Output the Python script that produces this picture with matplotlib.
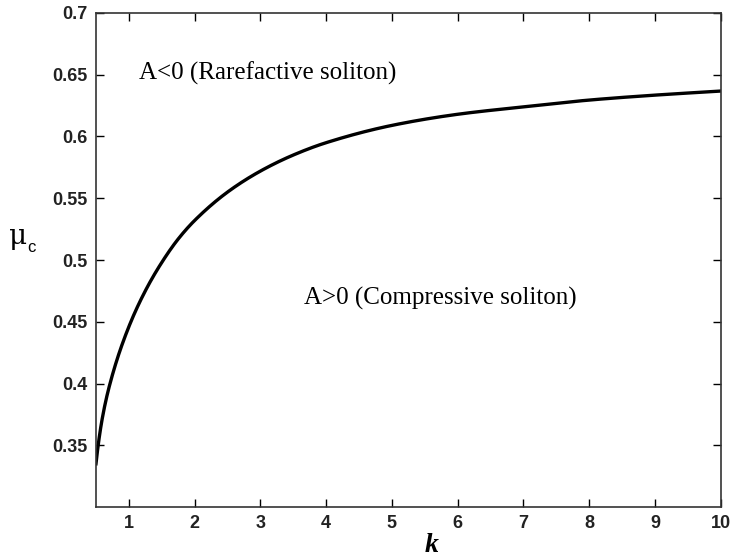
import matplotlib
matplotlib.use("Agg")
import matplotlib.pyplot as plt
import numpy as np

k_vals = [0.5, 0.6, 0.75, 1.0, 1.25, 1.5, 1.75, 2.0, 2.5, 3.0, 3.5, 4.0,
          5.0, 6.0, 7.0, 8.0, 9.0, 10.0]
mu_vals = [0.335, 0.373, 0.407, 0.446, 0.475, 0.498, 0.517, 0.532, 0.555, 0.572,
           0.585, 0.595, 0.609, 0.618, 0.624, 0.6295, 0.6335, 0.6368]

x_ticks = [1, 2, 3, 4, 5, 6, 7, 8, 9, 10]
y_ticks = [0.35, 0.4, 0.45, 0.5, 0.55, 0.6, 0.65, 0.7]
y_ticklabels = ["0.35", "0.4", "0.45", "0.5", "0.55", "0.6", "0.65", "0.7"]

fig = plt.figure(figsize=(7.31, 5.6), dpi=100)
ax = fig.add_axes([0.1313, 0.0946, 0.8547, 0.8822])

# smooth monotone Hermite curve through the read points (drawing only)
xs = np.array(k_vals); ys = np.array(mu_vals)
xx = np.linspace(xs[0], xs[-1], 800)
h = np.diff(xs); d = np.diff(ys) / h
m = np.zeros_like(ys)
m[0] = d[0] * 1.3; m[-1] = d[-1]
for i in range(1, len(ys) - 1):
    w1 = 2 * h[i] + h[i-1]; w2 = h[i] + 2 * h[i-1]
    m[i] = (w1 + w2) / (w1 / d[i-1] + w2 / d[i])
idx = np.clip(np.searchsorted(xs, xx) - 1, 0, len(xs) - 2)
t = (xx - xs[idx]) / h[idx]
h00 = 2*t**3 - 3*t**2 + 1; h10 = t**3 - 2*t**2 + t
h01 = -2*t**3 + 3*t**2; h11 = t**3 - t**2
yy = h00*ys[idx] + h10*h[idx]*m[idx] + h01*ys[idx+1] + h11*h[idx]*m[idx+1]

ax.plot(xx, yy, color="black", lw=2.4)

ax.set_xlim(0.5, 10)
ax.set_ylim(0.3, 0.7)
ax.set_xticks(x_ticks)
ax.set_yticks(y_ticks)
ax.set_yticklabels(y_ticklabels)
ax.tick_params(direction="in", length=6, width=1, top=True, right=True,
               labelsize=13, pad=6)
for lab in ax.get_xticklabels() + ax.get_yticklabels():
    lab.set_fontfamily("Liberation Sans")
    lab.set_fontweight("bold")
    lab.set_color("#222222")
for s in ax.spines.values():
    s.set_linewidth(1.2)
    s.set_color("#333333")

ax.text(1.15, 0.651, "A<0 (Rarefactive soliton)", family="Liberation Serif",
        fontsize=18, va="center", ha="left")
ax.text(3.66, 0.469, "A>0 (Compressive soliton)", family="Liberation Serif",
        fontsize=18, va="center", ha="left")

fig.text(18/731, 1 - 236/560, "μ", fontsize=20, ha="center", va="center",
         family="DejaVu Serif")
fig.text(31/731, 1 - 248/560, "c", fontsize=12, ha="center", va="center",
         family="Liberation Sans")
fig.text(432/731, 1 - 546/560, "k", fontsize=20, ha="center", va="center",
         family="Liberation Serif", style="italic", weight="bold")

fig.savefig("out.png", dpi=100)
